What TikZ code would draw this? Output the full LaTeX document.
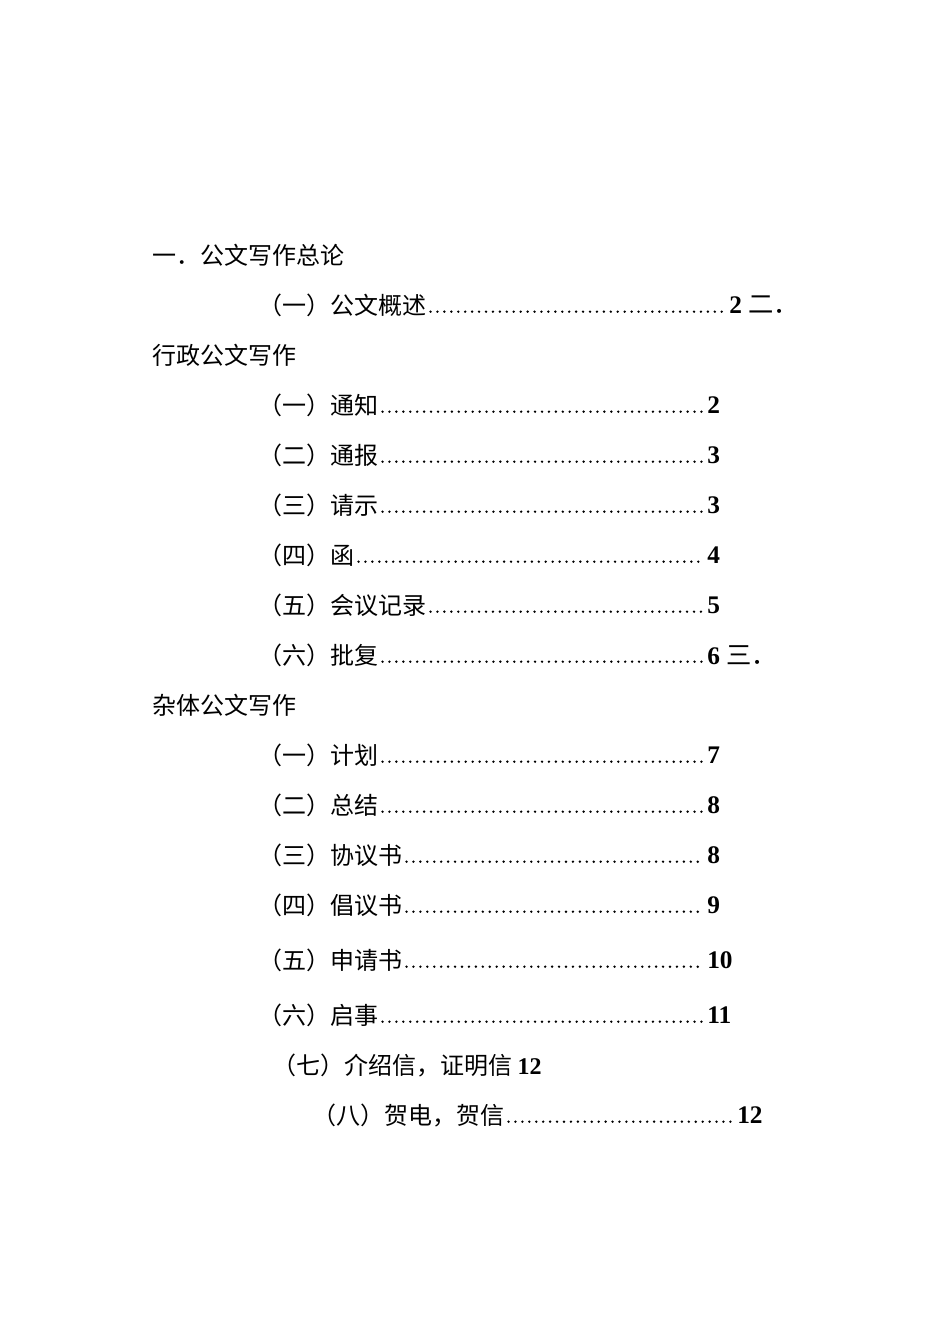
\documentclass[tikz,border=0pt]{standalone}
\usepackage{fontspec}
\setmainfont{Liberation Serif}
\newfontfamily\cjk{Noto Sans CJK SC}
\begin{document}
\begin{tikzpicture}[x=0.75pt,y=-0.75pt,
  lab/.style={anchor=west,inner sep=0pt,font=\cjk\fontsize{18}{18}\selectfont},
  num/.style={anchor=west,inner sep=0pt,font=\fontsize{19}{19}\selectfont\bfseries},
  lead/.style={line width=2pt,dash pattern=on 0pt off 5.2pt,line cap=round}]
\useasboundingbox (0,0) rectangle (950,1344);
\node[lab] (h1) at (152,255) {一．公文写作总论};
\node[lab] (a1) at (258,305) {（一）公文概述};
\node[num] (a1n) at (729,305) {2 {\cjk\mdseries 二．}};
\draw[lead] ([yshift=-5pt,xshift=3pt]a1.east) -- ([yshift=-5pt,xshift=-2pt]a1n.west);
\node[lab] (h2) at (152,355) {行政公文写作};
\foreach \i/\t/\n/\y in {b1/（一）通知/2/405, b2/（二）通报/3/455, b3/（三）请示/3/505, b4/（四）函/4/555, b5/（五）会议记录/5/605}{
  \node[lab] (\i) at (258,\y) {\t};
  \node[num] (\i n) at (707,\y) {\n};
  \draw[lead] ([yshift=-5pt,xshift=3pt]\i.east) -- ([yshift=-5pt,xshift=-2pt]\i n.west);
}
\node[lab] (b6) at (258,655) {（六）批复};
\node[num] (b6n) at (707,655) {6 {\cjk\mdseries 三．}};
\draw[lead] ([yshift=-5pt,xshift=3pt]b6.east) -- ([yshift=-5pt,xshift=-2pt]b6n.west);
\node[lab] (h3) at (152,705) {杂体公文写作};
\foreach \i/\t/\n/\y in {c1/（一）计划/7/755, c2/（二）总结/8/805, c3/（三）协议书/8/855, c4/（四）倡议书/9/905, c5/（五）申请书/10/960, c6/（六）启事/11/1015}{
  \node[lab] (\i) at (258,\y) {\t};
  \node[num] (\i n) at (707,\y) {\n};
  \draw[lead] ([yshift=-5pt,xshift=3pt]\i.east) -- ([yshift=-5pt,xshift=-2pt]\i n.west);
}
\node[lab] (c7) at (272,1065) {（七）介绍信，证明信 {\rmfamily\bfseries 12}};
\node[lab] (c8) at (312,1115) {（八）贺电，贺信};
\node[num] (c8n) at (737,1115) {12};
\draw[lead] ([yshift=-5pt,xshift=3pt]c8.east) -- ([yshift=-5pt,xshift=-2pt]c8n.west);
\end{tikzpicture}
\end{document}
